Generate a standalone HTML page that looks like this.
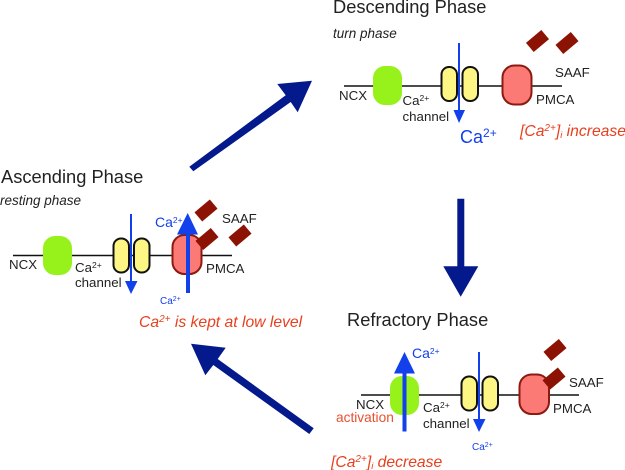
<!DOCTYPE html>
<html><head><meta charset="utf-8"><style>
html,body{margin:0;padding:0;background:#fff}
svg{display:block;font-family:"Liberation Sans",sans-serif}
.t{font-size:18.3px;fill:#222}
.i{font-size:13.5px;font-style:italic;fill:#222}
.l{font-size:13.3px;fill:#222}
.b{fill:#1240ea}
.r{font-size:15.7px;font-style:italic;fill:#e8401f}
.m{stroke:#111;stroke-width:1.6}
.g{fill:#97f21c}
.y{fill:#fdf684;stroke:#111;stroke-width:2}
.p{fill:#fb7a76;stroke:#8c1a10;stroke-width:2}
.s{fill:#8c1204}
.n{fill:#04198c}
</style></head><body>
<svg width="625" height="470" viewBox="0 0 625 470" xmlns="http://www.w3.org/2000/svg">
<rect width="625" height="470" fill="#fff"/>
<!-- big arrows -->
<polygon class="n" points="189.300,166.700 285.700,95.300 277.300,84 312,80.700 297.700,112.300 290.700,102 193.300,171.300"/>
<polygon class="n" points="457.300,198.700 464.300,198.700 464.300,266.300 478.300,266.300 460.700,296.700 443.300,266.300 457.300,266.300"/>
<polygon class="n" points="313.700,428.300 217.700,359 225.700,347.700 191,343.700 205.300,375.300 213.300,365 309.300,434"/>

<!-- Descending -->
<text class="t" x="333" y="13">Descending Phase</text>
<text class="i" x="333" y="38">turn phase</text>
<line class="m" x1="344" y1="86" x2="562" y2="86"/>
<rect class="g" x="373" y="66" width="29" height="39" rx="12"/>
<rect class="y" x="441.500" y="67" width="15.500" height="34" rx="7.500"/>
<rect class="y" x="462.500" y="67" width="15.500" height="34" rx="7.500"/>
<rect class="p" x="502.500" y="65.500" width="29" height="39" rx="12"/>
<rect class="s" x="-10" y="-6" width="20" height="12" transform="translate(537.500,41) rotate(-40)"/>
<rect class="s" x="-10" y="-6" width="20" height="12" transform="translate(567,43) rotate(-40)"/>
<line x1="459" y1="43" x2="459" y2="112" stroke="#1240ea" stroke-width="2"/>
<polygon class="b" points="453.500,110 465,110 459,123"/>
<text class="l" x="339" y="100">NCX</text>
<text class="l" x="402.500" y="105">Ca<tspan font-size="8.500" dy="-4">2+</tspan></text>
<text class="l" x="402.500" y="121">channel</text>
<text class="l" x="555" y="77">SAAF</text>
<text class="l" x="536" y="104">PMCA</text>
<text class="b" x="460" y="143" font-size="18">Ca<tspan font-size="12" dy="-6">2+</tspan></text>
<text class="r" x="520" y="136">[Ca<tspan font-size="10" dy="-5">2+</tspan><tspan dy="5">]</tspan><tspan font-size="9.500" dy="2">i</tspan><tspan dy="-2"> increase</tspan></text>

<!-- Ascending -->
<text class="t" x="1" y="183">Ascending Phase</text>
<text class="i" x="0" y="205">resting phase</text>
<line class="m" x1="13" y1="255.500" x2="232" y2="255.500"/>
<rect class="g" x="43" y="236" width="29" height="39" rx="12"/>
<rect class="y" x="113.500" y="238.500" width="15.500" height="34" rx="7.500"/>
<rect class="y" x="134" y="238.500" width="15.500" height="34" rx="7.500"/>
<rect class="p" x="172.500" y="235" width="29" height="39" rx="12"/>
<rect class="s" x="-10" y="-6" width="20" height="12" transform="translate(206,210.500) rotate(-40)"/>
<rect class="s" x="-10" y="-6" width="20" height="12" transform="translate(207,239) rotate(-40)"/>
<rect class="s" x="-10" y="-6" width="20" height="12" transform="translate(240,235.500) rotate(-40)"/>
<line x1="131" y1="214" x2="131" y2="283" stroke="#1240ea" stroke-width="2"/>
<polygon class="b" points="125,281 137.500,281 131,294"/>
<rect class="b" x="186" y="232" width="4" height="61"/>
<polygon class="b" points="187.700,213 198,234.500 177,234.500"/>
<text class="l" x="9" y="269">NCX</text>
<text class="l" x="75" y="272">Ca<tspan font-size="8.500" dy="-4">2+</tspan></text>
<text class="l" x="75" y="287">channel</text>
<text class="l" x="222" y="223">SAAF</text>
<text class="l" x="206" y="273">PMCA</text>
<text class="b" x="155" y="227" font-size="14">Ca<tspan font-size="8.500" dy="-4">2+</tspan></text>
<text class="b" x="160" y="304" font-size="10">Ca<tspan font-size="7" dy="-3">2+</tspan></text>
<text class="r" x="139" y="327">Ca<tspan font-size="10" dy="-5">2+</tspan><tspan dy="5"> is kept at low level</tspan></text>

<!-- Refractory -->
<text class="t" x="347" y="326">Refractory Phase</text>
<line class="m" x1="361" y1="395" x2="579" y2="395"/>
<rect class="g" x="390" y="376" width="29" height="39" rx="12"/>
<rect class="y" x="461.500" y="376.500" width="15.500" height="34" rx="7.500"/>
<rect class="y" x="482.500" y="376.500" width="15.500" height="34" rx="7.500"/>
<rect class="p" x="519.500" y="374.500" width="29.500" height="39.500" rx="12"/>
<rect class="s" x="-10" y="-6" width="20" height="12" transform="translate(555,350) rotate(-40)"/>
<rect class="s" x="-10" y="-6" width="20" height="12" transform="translate(554,378.500) rotate(-40)"/>
<rect class="b" x="402.500" y="371" width="4" height="60.500"/>
<polygon class="b" points="404.500,352 415,373.500 394,373.500"/>
<line x1="479" y1="352" x2="479" y2="421" stroke="#1240ea" stroke-width="2"/>
<polygon class="b" points="473,419 485.500,419 479,432"/>
<text class="l" x="356" y="409">NCX</text>
<text font-size="13.700" fill="#e8502f" x="336" y="422">activation</text>
<text class="l" x="423" y="412">Ca<tspan font-size="8.500" dy="-4">2+</tspan></text>
<text class="l" x="423" y="428">channel</text>
<text class="l" x="569" y="387">SAAF</text>
<text class="l" x="553" y="413">PMCA</text>
<text class="b" x="412" y="358" font-size="14">Ca<tspan font-size="8.500" dy="-4">2+</tspan></text>
<text class="b" x="472" y="450" font-size="10">Ca<tspan font-size="7" dy="-3">2+</tspan></text>
<text class="r" x="331" y="467">[Ca<tspan font-size="10" dy="-5">2+</tspan><tspan dy="5">]</tspan><tspan font-size="9.500" dy="2">i</tspan><tspan dy="-2"> decrease</tspan></text>
</svg>
</body></html>
